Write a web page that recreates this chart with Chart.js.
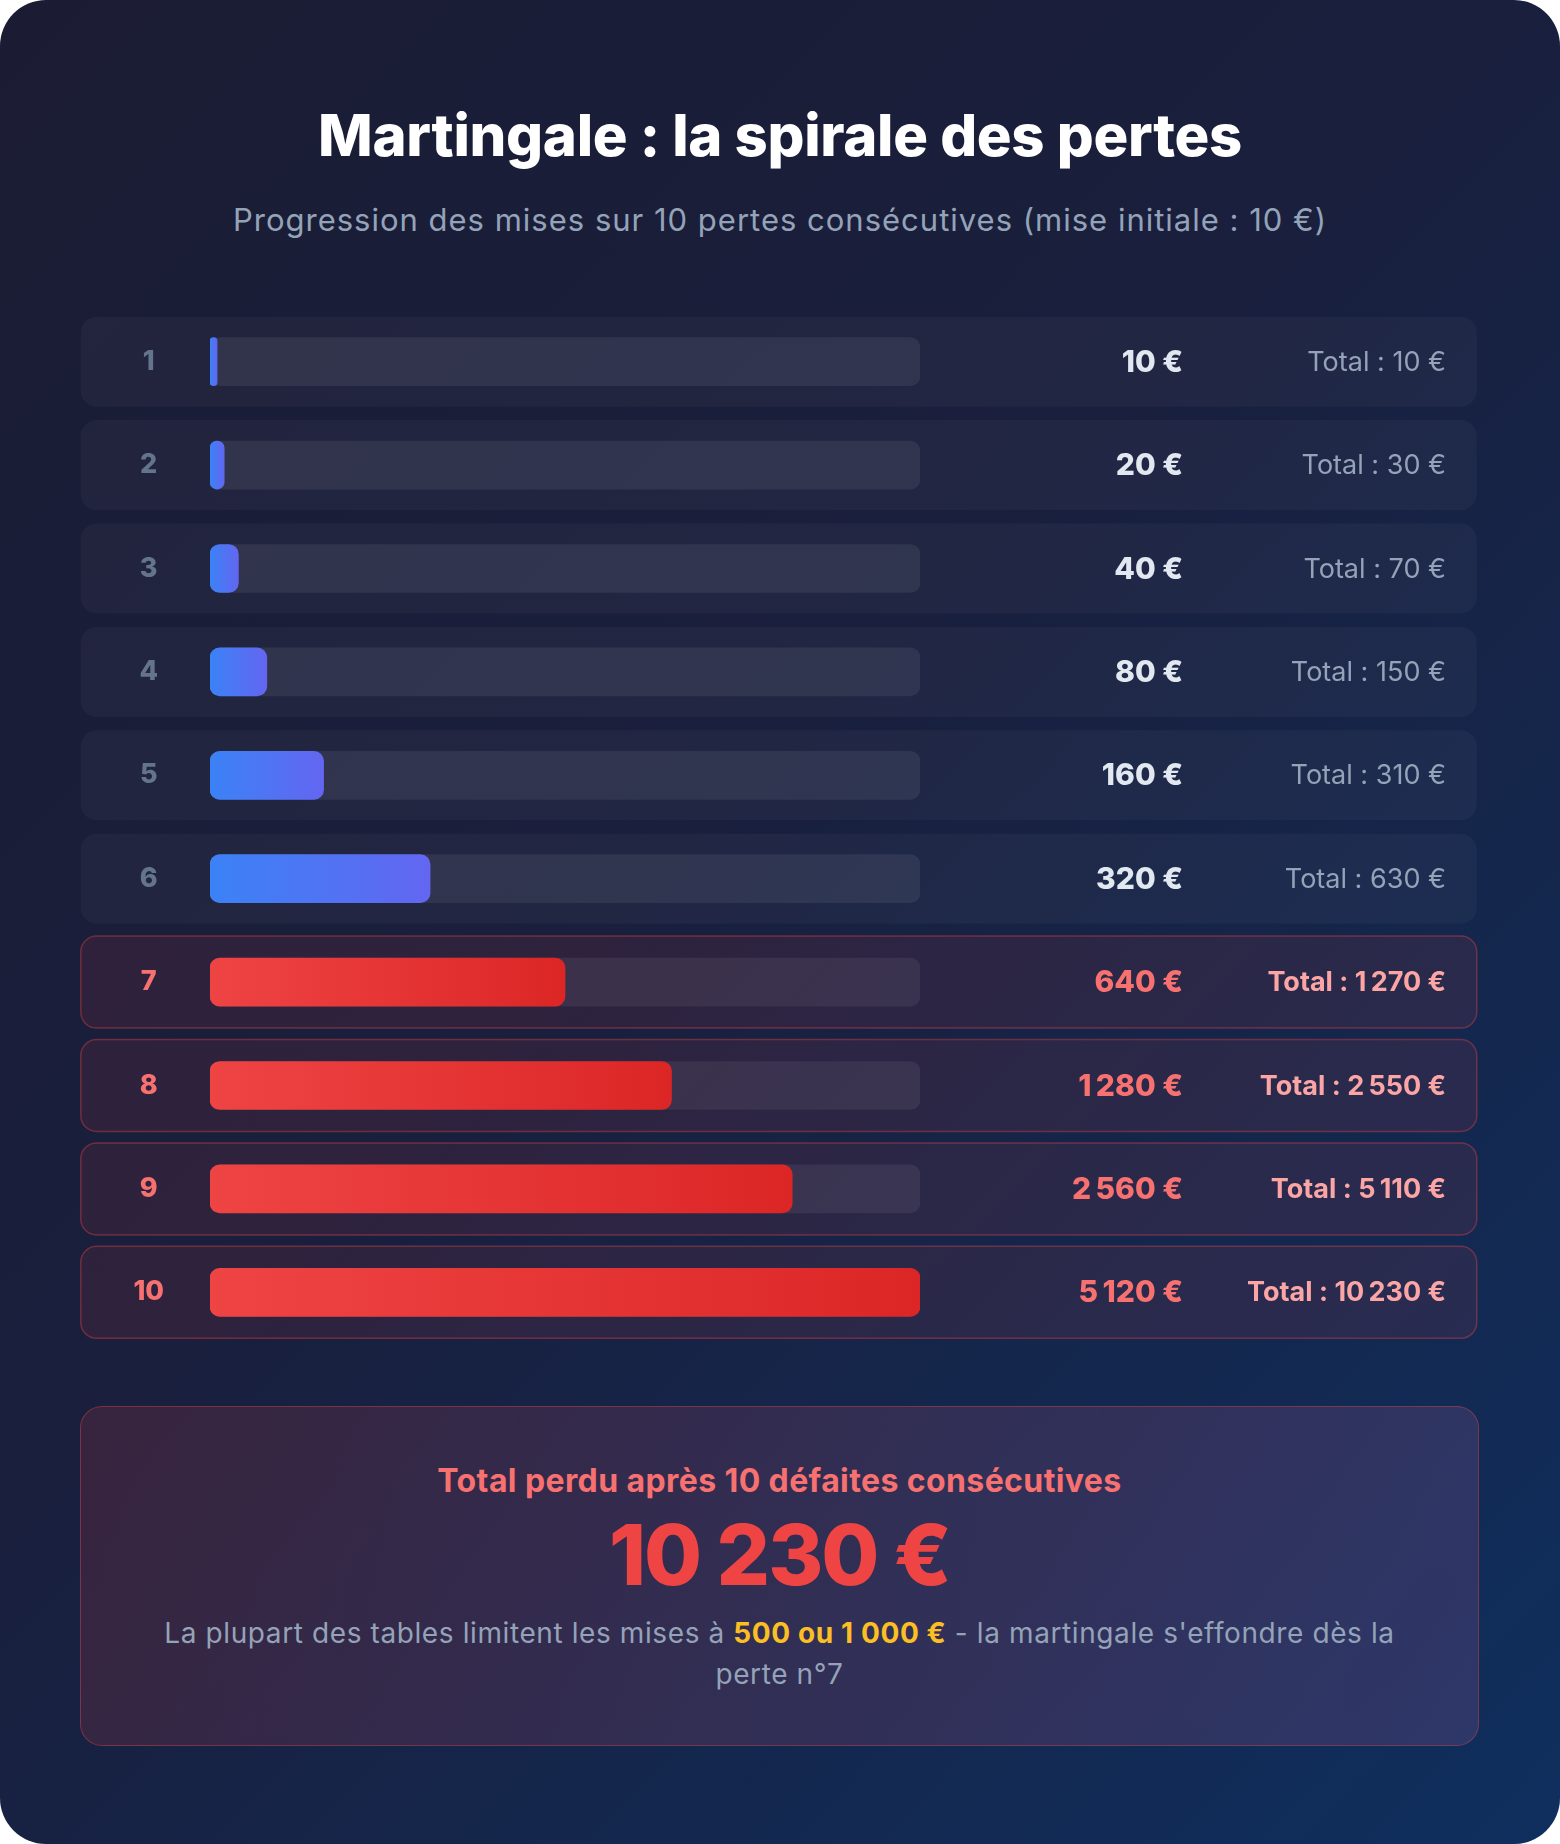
<!DOCTYPE html>
<html lang="fr">
<head>
<meta charset="utf-8">
<title>Martingale : la spirale des pertes</title>
<script src="https://cdn.jsdelivr.net/npm/chart.js@4.4.1/dist/chart.umd.min.js"></script>
<style>
  html, body { margin: 0; padding: 0; background: #ffffff; }
  #card {
    position: relative;
    width: 1560px; height: 1844px;
    border-radius: 46px;
    overflow: hidden;
    background: linear-gradient(135deg, #1b1c33 0%, #191f3d 45%, #0f2f5e 100%);
    font-family: "Inter", "Noto Sans", sans-serif;
  }
  .title {
    position: absolute; left: 0; width: 1560px; top: 103px;
    text-align: center; color: #ffffff;
    font-size: 58px; font-weight: 800; line-height: 64px; letter-spacing: -0.3px;
  }
  .subtitle {
    position: absolute; left: 0; width: 1560px; top: 200px;
    text-align: center; color: #94a3b8;
    font-size: 31px; font-weight: 400; line-height: 40px; letter-spacing: 1px;
  }
  #rows { position: absolute; left: 80px; top: 300px; }
  .summary {
    position: absolute; left: 80px; top: 1406px;
    width: 1397px; height: 338px;
    border: 1.5px solid rgba(239, 68, 68, 0.38);
    border-radius: 22px;
    background: linear-gradient(100deg, rgba(239, 68, 68, 0.14) 0%, rgba(200, 110, 180, 0.16) 100%);
  }
  .summary .head {
    position: absolute; left: 0; width: 100%; top: 54px;
    text-align: center; color: #f87171;
    font-size: 32px; font-weight: 700; line-height: 40px; letter-spacing: 0.4px;
  }
  .summary .big {
    position: absolute; left: 0; width: 100%; top: 100px;
    text-align: center; color: #ef4444;
    font-size: 84px; font-weight: 800; line-height: 96px; letter-spacing: -2px;
  }
  .summary .note {
    position: absolute; left: 40px; right: 40px; top: 206px;
    text-align: center; color: #94a3b8;
    font-size: 28px; font-weight: 400; line-height: 41px; letter-spacing: 0.6px;
  }
  .summary .note b { color: #fbbf24; font-weight: 700; }
</style>
</head>
<body>
<div id="card">
  <div class="title">Martingale : la spirale des pertes</div>
  <div class="subtitle">Progression des mises sur 10 pertes consécutives (mise initiale : 10 €)</div>
  <canvas id="rows" width="1400" height="1060"></canvas>
  <div class="summary">
    <div class="head">Total perdu après 10 défaites consécutives</div>
    <div class="big">10 230 €</div>
    <div class="note">La plupart des tables limitent les mises à <b>500 ou 1 000 €</b> - la martingale s'effondre dès la<br>perte n°7</div>
  </div>
</div>
<script>
  // rows of the martingale (loss number)
  var lossNumbers = ["1", "2", "3", "4", "5", "6", "7", "8", "9", "10"];
  // stake placed at each loss, in euros
  var stakes = [10, 20, 40, 80, 160, 320, 640, 1280, 2560, 5120];
  // running total lost, in euros
  var totals = [10, 30, 70, 150, 310, 630, 1270, 2550, 5110, 10230];
  // bar fill as drawn, in % of the track
  var fillPct = [1, 2, 4, 8, 16, 31, 50, 65, 82, 100];
  // from this loss on the table limit is exceeded
  var firstOverLimit = 6;

  function euro(n) {
    return String(n).replace(/\B(?=(\d{3})+(?!\d))/g, "\u202f") + " €";
  }
  function isRed(i) { return i >= firstOverLimit; }

  function fillColor(c) {
    if (c.type !== "data") return "#3b82f6";
    var red = isRed(c.dataIndex);
    var xs = c.chart.scales.x;
    if (!xs || xs.width === undefined) return red ? "#ef4444" : "#3b82f6";
    var x0 = xs.getPixelForValue(0);
    var x1 = xs.getPixelForValue(c.raw);
    if (x1 - x0 < 2) x1 = x0 + 2;
    var g = c.chart.ctx.createLinearGradient(x0, 0, x1, 0);
    if (red) {
      g.addColorStop(0, "#ef4444");
      g.addColorStop(1, "#dc2626");
    } else {
      g.addColorStop(0, "#3b82f6");
      g.addColorStop(1, "#6366f1");
    }
    return g;
  }

  var rowPlugin = {
    id: "rowBoxes",
    beforeDraw: function (chart) {
      var ctx = chart.ctx, ys = chart.scales.y;
      var w = chart.width;
      ctx.save();
      for (var i = 0; i < lossNumbers.length; i++) {
        var y = ys.getPixelForValue(i);
        var red = isRed(i);
        var h = red ? 92 : 90;
        ctx.beginPath();
        ctx.roundRect(0.75, y - h / 2, w - 4, h, 16);
        if (red) {
          ctx.fillStyle = "rgba(239, 68, 68, 0.10)";
          ctx.fill();
          ctx.lineWidth = 1.5;
          ctx.strokeStyle = "rgba(239, 68, 68, 0.38)";
          ctx.stroke();
        } else {
          ctx.fillStyle = "rgba(255, 255, 255, 0.035)";
          ctx.fill();
        }
      }
      ctx.restore();
    },
    afterDatasetsDraw: function (chart) {
      var ctx = chart.ctx, ys = chart.scales.y;
      ctx.save();
      ctx.textAlign = "right";
      ctx.textBaseline = "middle";
      for (var i = 0; i < lossNumbers.length; i++) {
        var y = ys.getPixelForValue(i) + 1;
        var red = isRed(i);
        ctx.font = "800 30px Inter, 'Noto Sans', sans-serif";
        ctx.fillStyle = red ? "#f87171" : "#e2e8f0";
        ctx.fillText(euro(stakes[i]), 1103, y);
        ctx.font = (red ? "700 " : "400 ") + "27px Inter, 'Noto Sans', sans-serif";
        ctx.fillStyle = red ? "#fca5a5" : "#94a3b8";
        ctx.fillText("Total : " + euro(totals[i]), 1366, y);
      }
      ctx.restore();
    }
  };

  new Chart(document.getElementById("rows"), {
    type: "bar",
    data: {
      labels: lossNumbers,
      datasets: [
        {
          label: "Mise",
          data: fillPct,
          backgroundColor: fillColor,
          borderRadius: 10,
          borderSkipped: false,
          barThickness: 48,
          grouped: false,
          order: 0
        },
        {
          label: "Piste",
          data: lossNumbers.map(function () { return 100; }),
          backgroundColor: function (c) {
            return isRed(c.dataIndex) ? "rgba(255, 255, 255, 0.065)" : "rgba(255, 255, 255, 0.07)";
          },
          borderRadius: 10,
          borderSkipped: false,
          barThickness: 48,
          grouped: false,
          order: 1
        }
      ]
    },
    options: {
      indexAxis: "y",
      responsive: false,
      animation: false,
      layout: { padding: { top: 10, bottom: 16, left: 0, right: 560 } },
      plugins: { legend: { display: false }, tooltip: { enabled: false } },
      scales: {
        x: { min: 0, max: 100, display: false },
        y: {
          offset: true,
          grid: { display: false, drawTicks: false },
          border: { display: false },
          afterFit: function (s) {
            s.width = 130;
            s.paddingTop = 0;
            s.paddingBottom = 0;
          },
          ticks: {
            crossAlign: "center",
            padding: 46,
            font: { family: "Inter, 'Noto Sans', sans-serif", size: 27, weight: "800" },
            color: function (c) { return isRed(c.index) ? "#f87171" : "#64748b"; }
          }
        }
      }
    },
    plugins: [rowPlugin]
  });
</script>
</body>
</html>
